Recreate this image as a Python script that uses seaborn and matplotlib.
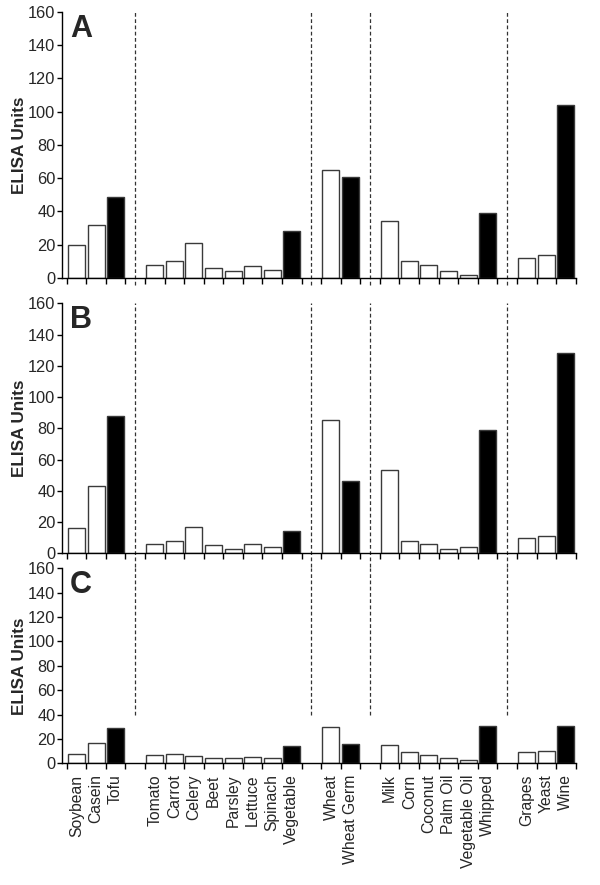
import matplotlib.pyplot as plt
import numpy as np
import pandas as pd
import seaborn as sns

# food groups, left to right; empty slots between groups hold the dashed separators
foods = ["Soybean", "Casein", "Tofu",
         "Tomato", "Carrot", "Celery", "Beet", "Parsley", "Lettuce", "Spinach", "Vegetable",
         "Wheat", "Wheat Germ",
         "Milk", "Corn", "Coconut", "Palm Oil", "Vegetable Oil", "Whipped",
         "Grapes", "Yeast", "Wine"]
slots = [0, 1, 2,
         4, 5, 6, 7, 8, 9, 10, 11,
         13, 14,
         16, 17, 18, 19, 20, 21,
         23, 24, 25]
separators = [3, 12, 15, 22]
processed = ["Tofu", "Vegetable", "Wheat Germ", "Whipped", "Wine"]

panel_a = [20, 32, 49, 8, 10, 21, 6, 4, 7, 5, 28, 65, 61, 34, 10, 8, 4, 2, 39, 12, 14, 104]
panel_b = [16, 43, 88, 6, 8, 17, 5, 3, 6, 4, 14, 85, 46, 53, 8, 6, 3, 4, 79, 10, 11, 128]
panel_c = [8, 17, 29, 7, 8, 6, 4, 4, 5, 4, 14, 30, 16, 15, 9, 7, 4, 3, 31, 9, 10, 31]

sns.set_style("ticks")
plt.rcParams["font.family"] = ["Liberation Sans", "DejaVu Sans"]

fig = plt.figure(figsize=(6, 8.85), dpi=100)

# (values, letter, axes box, dashed separator span in axes coords)
panels = [
    (panel_a, "A", [0.1028, 0.6859, 0.8567, 0.3006], (-0.026, 1.0)),
    (panel_b, "B", [0.1028, 0.3748, 0.8567, 0.2825], (-0.055, 1.0)),
    (panel_c, "C", [0.1028, 0.1375, 0.8567, 0.2203], (0.248, 1.0)),
]

kinds = ["processed" if f in processed else "plain" for f in foods]

for values, letter, box, span in panels:
    ax = fig.add_axes(box)
    df = pd.DataFrame({"pos": slots, "units": values, "kind": kinds})
    sns.barplot(data=df, x="pos", y="units", hue="kind",
                palette={"plain": "white", "processed": "black"},
                native_scale=True, dodge=False, width=0.87, errorbar=None,
                edgecolor="#3a3a3a", linewidth=1.0, legend=False, ax=ax)

    for s in separators:
        ax.plot([s, s], list(span), transform=ax.get_xaxis_transform(),
                ls=(0, (3, 2)), lw=0.9, color="#333333", clip_on=False)

    ax.set_xlim(-0.755, 25.5)
    ax.set_ylim(0, 160)
    ax.set_yticks(range(0, 161, 20))
    ax.set_xticks(np.arange(-0.5, 26, 1), minor=True)
    ax.set_xticks(slots)
    if letter == "C":
        ax.set_xticklabels(foods, rotation=90, fontsize=11.3)
    else:
        ax.set_xticklabels([])
    ax.tick_params(axis="x", which="major", length=0, pad=8)
    ax.tick_params(axis="x", which="minor", length=4, width=1, color="black")
    ax.tick_params(axis="y", length=3.5, width=1, color="black", labelsize=11.8, pad=1)
    ax.set_xlabel("")
    ax.set_ylabel("ELISA Units", fontsize=12.3, fontweight="bold", labelpad=1)
    for side in ["top", "right"]:
        ax.spines[side].set_visible(False)
    for side in ["left", "bottom"]:
        ax.spines[side].set_color("black")
        ax.spines[side].set_linewidth(1)

    ax.text(0.016, 0.992, letter, transform=ax.transAxes, ha="left", va="top",
            fontsize=22, fontweight="bold")

fig.savefig("out.png", dpi=100)
